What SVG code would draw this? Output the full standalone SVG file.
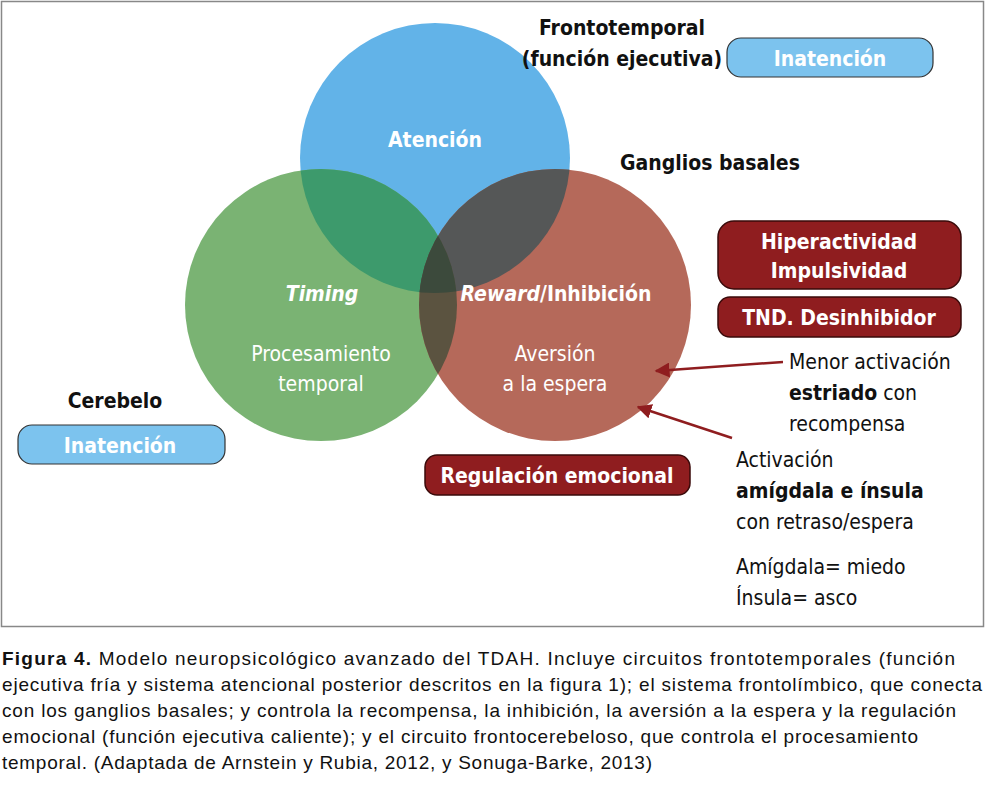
<svg xmlns="http://www.w3.org/2000/svg" width="985" height="788" viewBox="0 0 985 788">
<style>
text{font-family:"DejaVu Sans Condensed","Liberation Sans Narrow","Roboto",sans-serif;font-stretch:condensed}
.w{fill:#fff;font-size:21px;text-anchor:middle}
.b{font-weight:bold}
.k{fill:#111;font-size:21px}
.pill{fill:#8f1d1f;stroke:#3a0a0a;stroke-width:1.5}
.bl{fill:#7cc3ee;stroke:#333;stroke-width:1.2}
.cap{font-family:"Liberation Sans",sans-serif;font-stretch:normal;font-size:19px;fill:#111}
</style>
<defs>
<clipPath id="cB"><circle cx="435" cy="158" r="135"/></clipPath>
<clipPath id="cG"><circle cx="321" cy="305" r="136"/></clipPath>
<clipPath id="cR"><circle cx="555" cy="305" r="136"/></clipPath>
<marker id="ar" viewBox="0 0 10 10" refX="9" refY="5" markerWidth="6" markerHeight="6" orient="auto"><path d="M0,0L10,5L0,10z" fill="#8f1d1f"/></marker>
</defs>
<rect x="0" y="0" width="985" height="788" fill="#fff"/>
<rect x="1.5" y="1.5" width="982" height="625" fill="none" stroke="#888" stroke-width="1.5"/>
<g id="venn">
<circle cx="435" cy="158" r="135" fill="#62b3e8"/>
<circle cx="321" cy="305" r="136" fill="#7ab373"/>
<circle cx="555" cy="305" r="136" fill="#b5695a"/>
<circle cx="321" cy="305" r="136" fill="#3d9a6c" clip-path="url(#cB)"/>
<circle cx="555" cy="305" r="136" fill="#555757" clip-path="url(#cB)"/>
<g clip-path="url(#cG)"><circle cx="555" cy="305" r="136" fill="#5b5340"/></g>
<g clip-path="url(#cG)"><circle cx="555" cy="305" r="136" fill="#3c4a3c" clip-path="url(#cB)"/></g>
</g>
<g id="labels-venn">
<text class="w b" x="435" y="147">Atención</text>
<text class="w b" x="322" y="301" font-style="italic">Timing</text>
<text class="w" x="321" y="361">Procesamiento</text>
<text class="w" x="321" y="391">temporal</text>
<text class="w b" x="556" y="301"><tspan font-style="italic">Reward</tspan>/Inhibición</text>
<text class="w" x="555" y="361">Aversión</text>
<text class="w" x="555" y="391">a la espera</text>
</g>
<g id="frontotemporal">
<text class="k b" x="622" y="35" text-anchor="middle">Frontotemporal</text>
<text class="k b" x="622" y="66" text-anchor="middle">(función ejecutiva)</text>
<rect class="bl" x="727" y="38" width="206" height="39" rx="14"/>
<text class="w b" x="830" y="66">Inatención</text>
</g>
<g id="ganglios">
<text class="k b" x="710" y="170" text-anchor="middle">Ganglios basales</text>
<rect class="pill" x="718" y="221" width="243" height="68" rx="16"/>
<text class="w b" x="839" y="249">Hiperactividad</text>
<text class="w b" x="839" y="278">Impulsividad</text>
<rect class="pill" x="718" y="297" width="243" height="40" rx="12"/>
<text class="w b" x="839" y="325">TND. Desinhibidor</text>
</g>
<g id="cerebelo">
<text class="k b" x="115" y="408" text-anchor="middle">Cerebelo</text>
<rect class="bl" x="18" y="425" width="207" height="39" rx="14"/>
<text class="w b" x="120" y="453">Inatención</text>
</g>
<g id="regulacion">
<rect class="pill" x="425" y="455" width="265" height="40" rx="12"/>
<text class="w b" x="557" y="483">Regulación emocional</text>
</g>
<g id="notes">
<text class="k" x="789" y="369">Menor activación</text>
<text class="k" x="789" y="400"><tspan font-weight="bold">estriado</tspan> con</text>
<text class="k" x="789" y="431">recompensa</text>
<text class="k" x="736" y="467">Activación</text>
<text class="k b" x="736" y="498">amígdala e ínsula</text>
<text class="k" x="736" y="529">con retraso/espera</text>
<text class="k" x="736" y="574">Amígdala= miedo</text>
<text class="k" x="736" y="605">Ínsula= asco</text>
</g>
<g id="connectors" stroke="#8f1d1f" stroke-width="2.5" fill="none">
<line x1="783" y1="362" x2="656" y2="371" marker-end="url(#ar)"/>
<line x1="732" y1="438" x2="638" y2="407" marker-end="url(#ar)"/>
</g>
<g id="caption">
<text class="cap" x="2" y="665" textLength="953" lengthAdjust="spacing"><tspan font-weight="bold">Figura 4.</tspan> Modelo neuropsicológico avanzado del TDAH. Incluye circuitos frontotemporales (función</text>
<text class="cap" x="2" y="691" textLength="980" lengthAdjust="spacing">ejecutiva fría y sistema atencional posterior descritos en la figura 1); el sistema frontolímbico, que conecta</text>
<text class="cap" x="2" y="717" textLength="954" lengthAdjust="spacing">con los ganglios basales; y controla la recompensa, la inhibición, la aversión a la espera y la regulación</text>
<text class="cap" x="2" y="743" textLength="916" lengthAdjust="spacing">emocional (función ejecutiva caliente); y el circuito frontocerebeloso, que controla el procesamiento</text>
<text class="cap" x="2" y="769" textLength="650" lengthAdjust="spacing">temporal. (Adaptada de Arnstein y Rubia, 2012, y Sonuga-Barke, 2013)</text>
</g>
</svg>
